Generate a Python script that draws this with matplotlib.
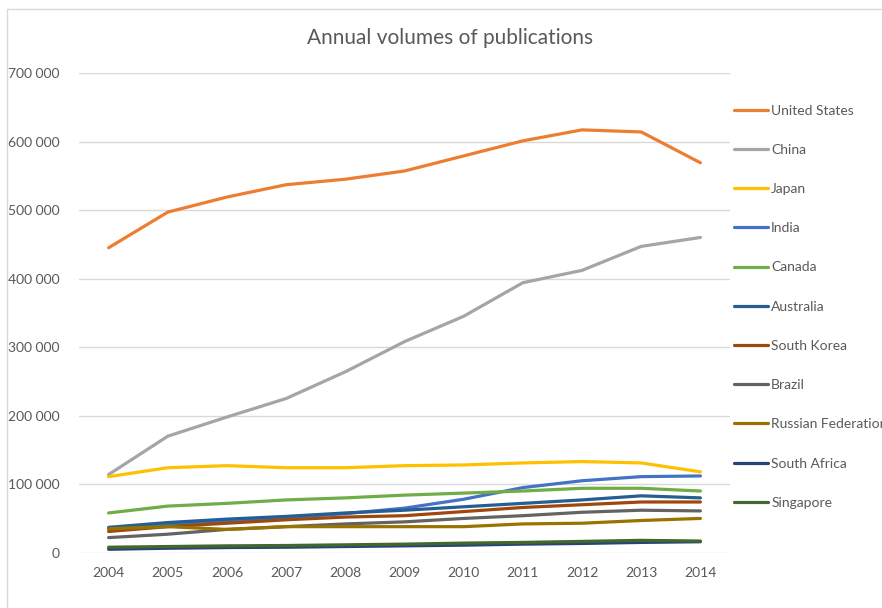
import matplotlib
matplotlib.use("Agg")
import matplotlib.pyplot as plt
from matplotlib.patches import Rectangle
from matplotlib.ticker import FuncFormatter

plt.rcParams['font.family'] = ['Lato', 'DejaVu Sans']

years = [2004, 2005, 2006, 2007, 2008, 2009, 2010, 2011, 2012, 2013, 2014]

united_states = [445000, 497000, 519000, 537000, 545000, 557000, 579000, 601000, 617000, 614000, 569000]
china = [114000, 170000, 198000, 225000, 264000, 308000, 345000, 394000, 412000, 447000, 460000]
japan = [111000, 124000, 127000, 124000, 124000, 127000, 128000, 131000, 133000, 131000, 118000]
india = [35000, 41000, 46000, 51000, 57000, 65000, 78000, 95000, 105000, 111000, 112000]
canada = [58000, 68000, 72000, 77000, 80000, 84000, 87000, 90000, 94000, 94000, 90000]
australia = [37000, 44000, 49000, 53000, 58000, 62000, 67000, 72000, 77000, 83000, 80000]
south_korea = [31000, 38000, 43000, 48000, 52000, 54000, 60000, 66000, 70000, 74000, 74000]
brazil = [22000, 27000, 34000, 38000, 42000, 45000, 50000, 54000, 59000, 62000, 61000]
russia = [35000, 38000, 34000, 38000, 38000, 38000, 38000, 42000, 43000, 47000, 50000]
south_africa = [5000, 6500, 7500, 8000, 9000, 10000, 11000, 12500, 13500, 15000, 16000]
singapore = [8000, 9000, 10000, 10500, 11500, 12500, 14000, 15000, 16500, 18000, 17000]

series = [
    ("United States", united_states, "#ED7D31"),
    ("China", china, "#A5A5A5"),
    ("Japan", japan, "#FFC000"),
    ("India", india, "#4472C4"),
    ("Canada", canada, "#70AD47"),
    ("Australia", australia, "#255E91"),
    ("South Korea", south_korea, "#9E480E"),
    ("Brazil", brazil, "#636363"),
    ("Russian Federation", russia, "#997300"),
    ("South Africa", south_africa, "#264478"),
    ("Singapore", singapore, "#43682B"),
]

fig = plt.figure(figsize=(8.82, 6.08), dpi=100)
fig.patches.append(Rectangle((7/882, -0.1), 1.2, 1 - 9/608 + 0.1, transform=fig.transFigure,
                             fill=False, edgecolor="#D9D9D9", linewidth=1.0, zorder=0))

ax = fig.add_axes([79/882, (608-552.7)/608, (730-79)/882, (552.7-73)/608])

for name, vals, col in series:
    ax.plot(years, vals, color=col, linewidth=2.3, label=name, solid_capstyle='round')

ax.set_xlim(2003.5, 2014.5)
ax.set_ylim(0, 700000)
ax.set_xticks(years)
ax.set_yticks(range(0, 700001, 100000))
ax.yaxis.set_major_formatter(FuncFormatter(lambda v, p: "0" if v == 0 else f"{int(v):,}".replace(",", " ")))
ax.grid(axis='y', color="#D9D9D9", linewidth=1.0)
ax.set_axisbelow(True)
for s in ax.spines.values():
    s.set_visible(False)
ax.tick_params(axis='both', length=0, labelsize=10, labelcolor="#595959")
ax.tick_params(axis='y', pad=14)
ax.tick_params(axis='x', pad=10)

fig.text(450/882, 1 - 38/608, "Annual volumes of publications", ha='center', va='center',
         fontsize=15, color="#595959")

leg = fig.legend(loc='upper left', bbox_to_anchor=(728/882, 1 - 99/608), frameon=False,
                 fontsize=10, labelcolor="#595959", handlelength=2.5, handletextpad=0.2,
                 labelspacing=1.96, borderaxespad=0)

fig.savefig("out.png", dpi=100)
